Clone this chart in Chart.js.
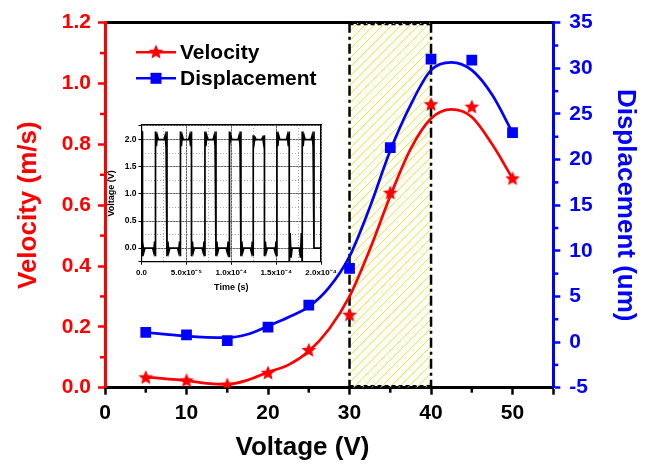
<!DOCTYPE html>
<html><head><meta charset="utf-8">
<script src="https://cdn.jsdelivr.net/npm/chart.js@4.4.1/dist/chart.umd.min.js"></script>
<style>
html,body{margin:0;padding:0;background:#fff;}
#wrap{position:relative;width:647px;height:465px;overflow:hidden;}
#main{position:absolute;left:0;top:0;}
#inset{position:absolute;left:105px;top:115px;}
</style></head><body>
<div id="wrap"><canvas id="main" width="647" height="465"></canvas><canvas id="inset" width="250" height="185"></canvas></div>
<script>
// ---------- main chart data ----------
const voltage = [5, 10, 15, 20, 25, 30, 35, 40, 45, 50];
const velocity = [0.034, 0.024, 0.010, 0.049, 0.124, 0.240, 0.641, 0.932, 0.924, 0.688];
const displacement = [1.07, 0.78, 0.15, 1.65, 4.06, 8.08, 21.3, 31.0, 30.9, 22.95];
// fitted (smoothed) curves
const fitVoltage = [5, 7.5, 10, 12.5, 15, 17.5, 20, 22.5, 25, 27.5, 30, 32.5, 35, 37.5, 40, 42.5, 45, 47.5, 50];
const fitVelocity = [0.035, 0.029, 0.023, 0.014, 0.011, 0.025, 0.051, 0.075, 0.120, 0.193, 0.300, 0.455, 0.630, 0.785, 0.885, 0.915, 0.890, 0.800, 0.688];
const fitDisplacement = [1.05, 0.85, 0.65, 0.52, 0.48, 0.85, 1.76, 2.72, 3.88, 6.0, 9.4, 14.8, 21.0, 26.0, 29.8, 30.66, 29.8, 27.1, 22.95];
const highlightRange = [30, 40];
const legendLabels = ['Velocity', 'Displacement'];
const xTitle = 'Voltage (V)';
const yLeftTitle = 'Velocity (m/s)';
const yRightTitle = 'Displacement (um)';

// ---------- inset data (time in units of 1e-5 s) ----------
const insetEdgeTimes = [0.06, 1.56, 2.84, 4.34, 5.57, 7.07, 8.30, 9.75, 11.08, 12.45, 13.70, 15.09, 16.46, 17.91, 19.22];
const insetLevels = [2.0, 0.0];
const insetRinging = [0.15, 0.15, 0.15, 0.15, 0.15, 0.15, 0.15, 0.15, 0.15, 0.15, 0.08, 0.15, 0.15, 0.35, 0.15, 0];
const insetTimeLabels = ['0.0', '5.0x10\u207B\u2075', '1.0x10\u207B\u2074', '1.5x10\u207B\u2074', '2.0x10\u207B\u2074'];
const insetEnd = 20;

Chart.defaults.font.family = "'Liberation Sans', Arial, Helvetica, sans-serif";
Chart.defaults.font.weight = 'bold';

const RED = '#ff0000', BLUE = '#0000ff';

function makeStar(size, color) {
  const c = document.createElement('canvas'); c.width = size; c.height = size;
  const g = c.getContext('2d'); const cx = size / 2, cy = size / 2 + 0.5;
  const R = size / 2 - 0.3, r = R * 0.46;
  g.beginPath();
  for (let k = 0; k < 10; k++) {
    const ang = -Math.PI / 2 + k * Math.PI / 5; const rad = (k % 2) ? r : R;
    g.lineTo(cx + rad * Math.cos(ang), cy + rad * Math.sin(ang));
  }
  g.closePath(); g.fillStyle = color; g.fill();
  return c;
}
const starImg = makeStar(16, RED);

const pts = (xs, ys) => xs.map((x, i) => ({x: x, y: ys[i]}));

const hatchPlugin = {
  id: 'hatch',
  beforeDatasetsDraw(chart) {
    const {ctx, chartArea: a, scales: {x}} = chart;
    const x0 = x.getPixelForValue(highlightRange[0]), x1 = x.getPixelForValue(highlightRange[1]);
    const h = a.bottom - a.top;
    ctx.save();
    ctx.beginPath(); ctx.rect(x0, a.top, x1 - x0, h); ctx.clip();
    ctx.strokeStyle = '#e8e41c'; ctx.lineWidth = 1;
    for (let s = x0 - h; s < x1 + 10; s += 9) {
      ctx.beginPath(); ctx.moveTo(s, a.bottom); ctx.lineTo(s + h, a.top); ctx.stroke();
    }
    ctx.restore();
    ctx.save();
    ctx.strokeStyle = '#000'; ctx.lineWidth = 2.5; ctx.setLineDash([10, 4, 3, 4]);
    [x0, x1].forEach(px => { ctx.beginPath(); ctx.moveTo(px, a.top); ctx.lineTo(px, a.bottom); ctx.stroke(); });
    ctx.lineWidth = 1.2; ctx.setLineDash([4, 3]);
    ctx.beginPath(); ctx.moveTo(x0, a.top + 2); ctx.lineTo(x1, a.top + 2);
    ctx.moveTo(x0, a.bottom - 2); ctx.lineTo(x1, a.bottom - 2); ctx.stroke();
    ctx.restore();
  }
};

const minorTicksPlugin = {
  id: 'minorTicks',
  afterDraw(chart) {
    const {ctx, chartArea: a, scales} = chart;
    ctx.save(); ctx.lineWidth = 2.5;
    const ln = (x1, y1, x2, y2, c) => { ctx.strokeStyle = c; ctx.beginPath(); ctx.moveTo(x1, y1); ctx.lineTo(x2, y2); ctx.stroke(); };
    for (let v = 5; v < 55; v += 10) { const p = scales.x.getPixelForValue(v); ln(p, a.bottom, p, a.bottom + 5, '#000'); }
    for (let v = 0.1; v < 1.2; v += 0.2) { const p = scales.y.getPixelForValue(v); ln(a.left, p, a.left - 5, p, RED); }
    for (let v = -2.5; v < 35; v += 5) { const p = scales.y2.getPixelForValue(v); ln(a.right, p, a.right + 5, p, BLUE); }
    ctx.restore();
  }
};

const legendPlugin = {
  id: 'customLegend',
  afterDraw(chart) {
    const ctx = chart.ctx;
    ctx.save();
    const colors = [RED, BLUE];
    legendLabels.forEach((lab, i) => {
      const y = 52.3 + i * 26;
      ctx.strokeStyle = colors[i]; ctx.lineWidth = 2.5;
      ctx.beginPath(); ctx.moveTo(136, y); ctx.lineTo(176, y); ctx.stroke();
      if (i === 0) ctx.drawImage(starImg, 156 - 8, y - 8.5, 16, 16);
      else { ctx.fillStyle = BLUE; ctx.fillRect(156 - 5.5, y - 5.5, 11, 11); }
      ctx.fillStyle = '#000'; ctx.font = "bold 21px 'Liberation Sans', Arial, sans-serif";
      ctx.textBaseline = 'middle'; ctx.textAlign = 'left';
      ctx.fillText(lab, 180, y + 1);
    });
    // x-axis title
    ctx.font = "bold 26px 'Liberation Sans', Arial, sans-serif";
    ctx.textAlign = 'center'; ctx.textBaseline = 'middle';
    ctx.fillText(xTitle, 302.5, 448);
    ctx.restore();
  }
};

new Chart(document.getElementById('main'), {
  type: 'line',
  data: {
    datasets: [
      {label: 'Velocity fit', data: pts(fitVoltage, fitVelocity), yAxisID: 'y', borderColor: RED, borderWidth: 2.7,
       pointRadius: 0, cubicInterpolationMode: 'monotone', fill: false, order: 3},
      {label: 'Displacement fit', data: pts(fitVoltage, fitDisplacement), yAxisID: 'y2', borderColor: BLUE, borderWidth: 2.7,
       pointRadius: 0, cubicInterpolationMode: 'monotone', fill: false, order: 4},
      {label: 'Velocity', data: pts(voltage, velocity), yAxisID: 'y', showLine: false, pointStyle: starImg,
       pointRadius: 8, backgroundColor: RED, borderColor: RED, order: 1},
      {label: 'Displacement', data: pts(voltage, displacement), yAxisID: 'y2', showLine: false, pointStyle: 'rect',
       pointRadius: 7.6, pointBorderWidth: 0, backgroundColor: BLUE, borderColor: BLUE, order: 2}
    ]
  },
  options: {
    responsive: false, animation: false, events: [], devicePixelRatio: 1,
    layout: {padding: {top: 22.7, left: 0, right: 0, bottom: 0}},
    plugins: {legend: {display: false}, tooltip: {enabled: false}},
    scales: {
      x: {type: 'linear', position: 'bottom', min: 0, max: 55,
        ticks: {stepSize: 10, color: '#000', font: {size: 21, weight: 'bold'}, padding: 6, maxRotation: 0,
          callback: v => (v % 10 === 0 ? String(v) : '')},
        grid: {display: true, drawOnChartArea: false, drawTicks: true, tickLength: 7, tickWidth: 2.5, tickColor: '#000'},
        border: {color: '#000', width: 3},
        afterFit: s => { s.height = 77.3; }},
      xTop: {type: 'linear', position: 'top', min: 0, max: 55, ticks: {display: false},
        grid: {display: false}, border: {color: '#000', width: 3}, afterFit: s => { s.height = 0; }},
      y: {type: 'linear', position: 'left', min: 0, max: 1.2,
        ticks: {stepSize: 0.2, color: RED, font: {size: 21, weight: 'bold'}, padding: 7, callback: v => v.toFixed(1)},
        grid: {display: true, drawOnChartArea: false, drawTicks: true, tickLength: 7, tickWidth: 2.5, tickColor: RED},
        border: {color: RED, width: 3},
        title: {display: true, text: yLeftTitle, color: RED, font: {size: 26, weight: 'bold'}, padding: {top: 13, bottom: 0}},
        afterFit: s => { s.width = 105; }},
      y2: {type: 'linear', position: 'right', min: -5, max: 35,
        ticks: {stepSize: 5, color: BLUE, font: {size: 21, weight: 'bold'}, padding: 9, callback: v => String(Math.round(v))},
        grid: {display: true, drawOnChartArea: false, drawTicks: true, tickLength: 7, tickWidth: 2.5, tickColor: BLUE},
        border: {color: BLUE, width: 3},
        title: {display: true, text: yRightTitle, color: BLUE, font: {size: 26, weight: 'bold'}, padding: {top: 6, bottom: 0}},
        afterFit: s => { s.width = 93.7; }}
    }
  },
  plugins: [hatchPlugin, minorTicksPlugin, legendPlugin]
});

// ---------- inset ----------
function buildWave() {
  const out = [];
  const starts = [0].concat(insetEdgeTimes);
  const ends = insetEdgeTimes.concat([insetEnd]);
  for (let i = 0; i < starts.length; i++) {
    const s = starts[i], e = ends[i], L = insetLevels[i % 2], a = insetRinging[i];
    const sg = L > 1 ? 1 : -1;
    if (e - s < 0.8) { out.push({x: s, y: L + a * sg}, {x: e, y: L + a * sg}); continue; }
    out.push({x: s, y: L + a * sg}, {x: s + 0.1, y: L - 0.8 * a * sg}, {x: s + 0.2, y: L + 0.5 * a * sg}, {x: s + 0.32, y: L});
    out.push({x: e - 0.32, y: L}, {x: e - 0.2, y: L + 0.5 * a * sg}, {x: e - 0.1, y: L - 0.8 * a * sg}, {x: e, y: L + a * sg});
  }
  return out;
}

new Chart(document.getElementById('inset'), {
  type: 'line',
  data: {datasets: [{data: buildWave(), borderColor: '#000', borderWidth: 1.7, pointRadius: 0, tension: 0, fill: false}]},
  options: {
    responsive: false, animation: false, events: [], devicePixelRatio: 1,
    layout: {padding: {top: 10, right: 34, left: 0, bottom: 0}},
    plugins: {legend: {display: false}, tooltip: {enabled: false}},
    scales: {
      x: {type: 'linear', position: 'bottom', min: 0, max: insetEnd,
        ticks: {stepSize: 5, color: '#000', font: {size: 8, weight: 'bold'}, padding: 3, maxRotation: 0, autoSkip: false,
          callback: (v, i) => (insetTimeLabels[i] !== undefined ? insetTimeLabels[i] : '')},
        grid: {color: '#666', lineWidth: 1, drawTicks: true, tickLength: 3, tickColor: '#000'},
        border: {color: '#000', width: 1.2},
        title: {display: true, text: 'Time (s)', color: '#000', font: {size: 9, weight: 'bold'}, padding: {top: 0, bottom: 7}},
        afterFit: s => { s.height = 38.3; }},
      xm: {type: 'linear', position: 'bottom', min: 0, max: insetEnd, ticks: {display: false, stepSize: 2.5},
        grid: {color: '#aaa', lineWidth: 1, drawTicks: false}, border: {display: false, dash: [1, 2]},
        afterFit: s => { s.height = 0; }},
      xt: {type: 'linear', position: 'top', min: 0, max: insetEnd, ticks: {display: false},
        grid: {display: false}, border: {color: '#000', width: 1.2}, afterFit: s => { s.height = 0; }},
      y: {type: 'linear', position: 'left', min: -0.25, max: 2.27,
        ticks: {stepSize: 0.5, color: '#000', font: {size: 8.5, weight: 'bold'}, padding: 2, autoSkip: false,
          callback: v => (Math.abs(v * 2 - Math.round(v * 2)) < 1e-6 ? v.toFixed(1) : '')},
        grid: {color: '#666', lineWidth: 1, drawTicks: true, tickLength: 3, tickColor: '#000'},
        border: {color: '#000', width: 1.2},
        title: {display: true, text: 'Voltage (V)', color: '#000', font: {size: 9, weight: 'bold'}, padding: {top: 1, bottom: 0}},
        afterFit: s => { s.width = 36.5; }},
      ym: {type: 'linear', position: 'left', min: -0.25, max: 2.27, ticks: {display: false, stepSize: 0.25},
        grid: {color: '#aaa', lineWidth: 1, drawTicks: false}, border: {display: false, dash: [1, 2]},
        afterFit: s => { s.width = 0; }},
      yr: {type: 'linear', position: 'right', min: -0.25, max: 2.27, ticks: {display: false},
        grid: {display: false}, border: {color: '#000', width: 1.2}, afterFit: s => { s.width = 0; }}
    }
  }
});
</script>
</body></html>
